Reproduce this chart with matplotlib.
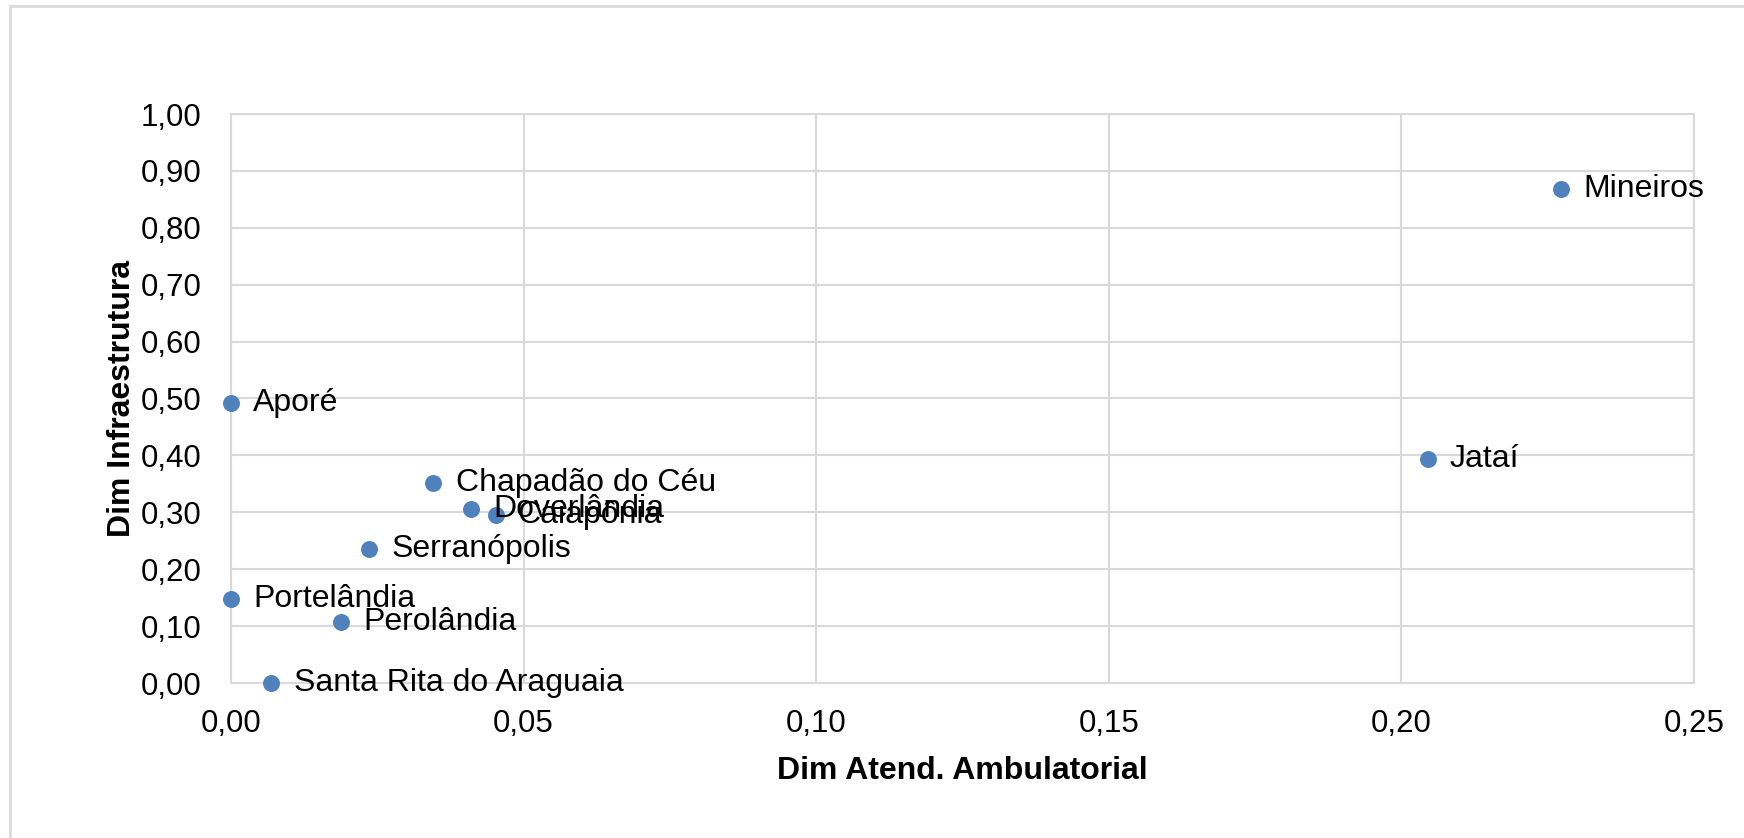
import matplotlib.pyplot as plt
from matplotlib.patches import Rectangle
from matplotlib.ticker import FuncFormatter, MultipleLocator

# dados
municipios = ['Mineiros', 'Jataí', 'Aporé', 'Chapadão do Céu', 'Doverlândia',
              'Caiapônia', 'Serranópolis', 'Portelândia', 'Perolândia',
              'Santa Rita do Araguaia']
atend_ambulatorial = [0.2273, 0.2045, 0.0, 0.0346, 0.0410,
                      0.0452, 0.0236, 0.0, 0.0188, 0.0069]
infraestrutura = [0.869, 0.394, 0.492, 0.352, 0.305,
                  0.296, 0.235, 0.147, 0.107, 0.0]

plt.rcParams['font.family'] = ['Liberation Sans', 'DejaVu Sans']

fig = plt.figure(figsize=(17.44, 8.38), dpi=100)
ax = fig.add_axes([231 / 1744, 1 - 683 / 838, (1694 - 231) / 1744, (683 - 114) / 838])

# moldura externa (estilo Excel)
fig.patches.append(Rectangle((10 / 1744, -0.05), 1.1, 1 - 6 / 838 + 0.05,
                             transform=fig.transFigure, fill=False,
                             edgecolor='#d9d9d9', linewidth=2))

ax.scatter(atend_ambulatorial, infraestrutura, s=125, color='#4f81bd', zorder=3,
           clip_on=False)

for nome, x, y in zip(municipios, atend_ambulatorial, infraestrutura):
    ax.annotate(nome, (x, y), xytext=(16, 0), textcoords='offset points',
                va='center', ha='left', fontsize=23, color='black',
                annotation_clip=False)

ax.set_xlim(0, 0.25)
ax.set_ylim(0, 1.0)
ax.xaxis.set_major_locator(MultipleLocator(0.05))
ax.yaxis.set_major_locator(MultipleLocator(0.10))
virgula = FuncFormatter(lambda v, p: ('%.2f' % v).replace('.', ','))
ax.xaxis.set_major_formatter(virgula)
ax.yaxis.set_major_formatter(virgula)

ax.grid(True, color='#d9d9d9', linewidth=1.5)
ax.set_axisbelow(True)
for s in ax.spines.values():
    s.set_color('#d9d9d9')
    s.set_linewidth(1.5)

ax.tick_params(axis='both', length=0, labelsize=22.5)
ax.tick_params(axis='x', pad=19)
ax.tick_params(axis='y', pad=21)

ax.set_xlabel('Dim Atend. Ambulatorial', fontsize=23, fontweight='bold', labelpad=12)
ax.set_ylabel('Dim Infraestrutura', fontsize=23, fontweight='bold', labelpad=3)

plt.savefig('out.png', dpi=100)
